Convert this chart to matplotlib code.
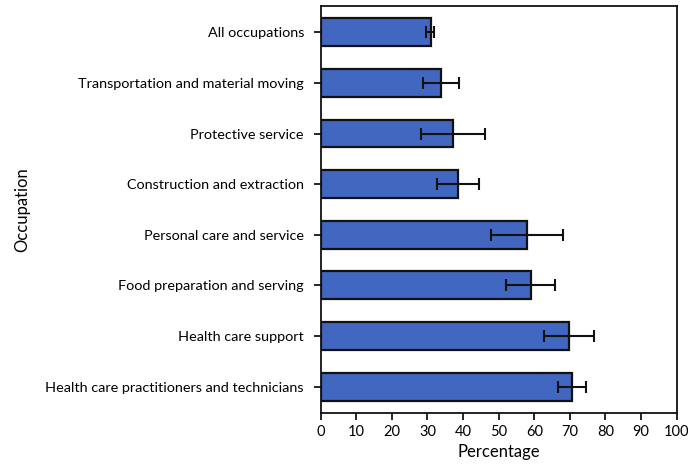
import matplotlib.pyplot as plt

# Datos
ocupaciones = ['All occupations',
               'Transportation and material moving',
               'Protective service',
               'Construction and extraction',
               'Personal care and service',
               'Food preparation and serving',
               'Health care support',
               'Health care practitioners and technicians']
porcentaje = [31.0, 33.8, 37.3, 38.7, 58.0, 59.0, 69.8, 70.7]
error_bajo = [1.4, 5.0, 9.1, 6.0, 10.2, 7.0, 7.0, 4.0]
error_alto = [0.9, 5.0, 8.8, 5.8, 10.0, 6.9, 7.1, 3.8]

plt.rcParams['font.family'] = ['Lato', 'DejaVu Sans']

fig = plt.figure(figsize=(6.88, 4.65), dpi=100)
ax = fig.add_axes([0.466, 0.112, 0.5176, 0.875])

pos = list(range(len(ocupaciones)))
ax.barh(pos, porcentaje, height=0.55, color='#4267c0', edgecolor='#111111',
        linewidth=1.6, zorder=2)
ax.errorbar(porcentaje, pos, xerr=[error_bajo, error_alto], fmt='none',
            ecolor='#111111', elinewidth=1.5, capsize=4.5, capthick=1.5, zorder=3)

ax.set_yticks(pos)
ax.set_yticklabels(ocupaciones, fontsize=10.4)
ax.set_ylim(7.52, -0.52)
ax.set_xlim(0, 100)
ax.set_xticks(range(0, 101, 10))
ax.tick_params(axis='x', labelsize=10.5, length=5, width=1.2, direction='out')
ax.tick_params(axis='y', length=5, width=1.2, direction='out', pad=7)
for s in ax.spines.values():
    s.set_linewidth(1.3)
    s.set_color('#111111')

ax.set_xlabel('Percentage', fontsize=12)
ax.set_ylabel('Occupation', fontsize=12)
ax.yaxis.set_label_coords(-0.815, 0.5)

fig.savefig('out.png', dpi=100)
